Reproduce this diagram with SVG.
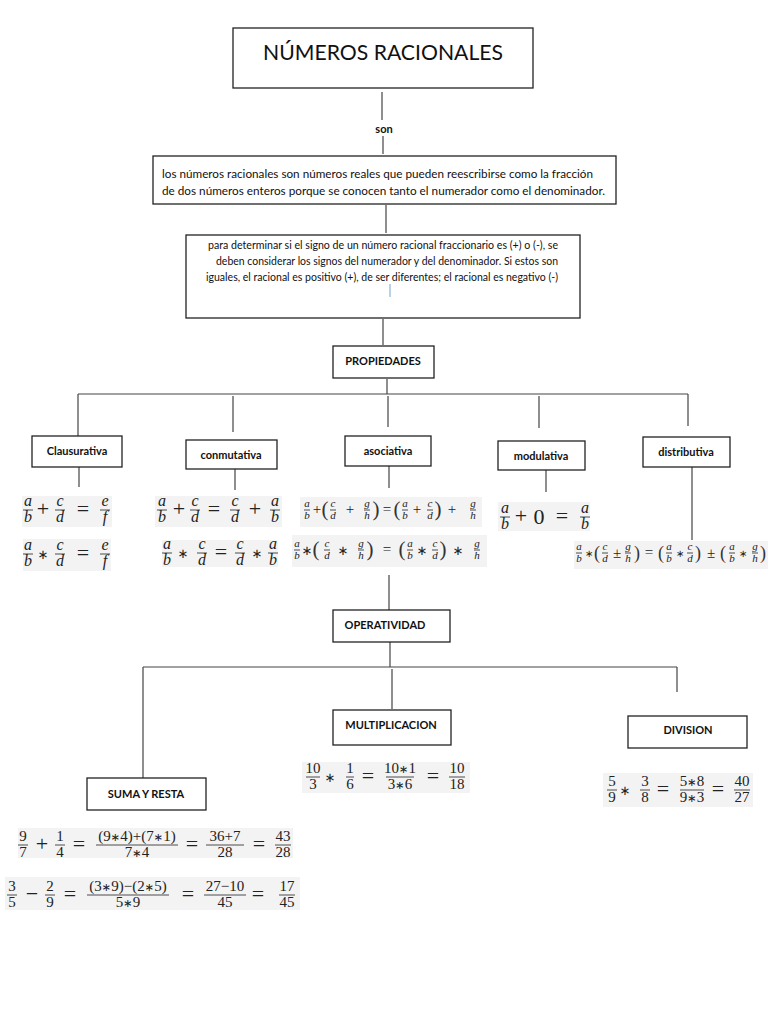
<svg xmlns="http://www.w3.org/2000/svg" width="768" height="1024" viewBox="0 0 768 1024">
<style>
.box{fill:#fff;stroke:#222;stroke-width:1.3}
.c line{stroke:#444;stroke-width:1.2}
.lbl{font-family:Lato,"Liberation Sans",sans-serif;font-weight:bold;font-size:11px;fill:#111;text-anchor:middle}
.txt{font-family:Lato,"Liberation Sans",sans-serif;font-size:10.5px;fill:#111}
.f{font-family:"Liberation Serif","Times New Roman",serif;font-size:16px;fill:#222;text-anchor:middle}
.s{font-size:11px}
.m{font-size:15px}
.i{font-style:italic}
.o{font-family:"Liberation Serif","Times New Roman",serif;font-size:22px;fill:#222;text-anchor:middle}
.os{font-size:15px}
.a{font-family:"DejaVu Sans",sans-serif;font-weight:normal;font-size:13px;fill:#222;text-anchor:middle}
.as{font-size:10px}
.t{font-family:"DejaVu Sans",sans-serif;font-size:0.75em}
.p{font-family:"Liberation Serif","Times New Roman",serif;font-size:21px;fill:#333;text-anchor:middle}
.ps{font-size:18px}
.b{stroke:#222;stroke-width:0.8}
.bg{fill:#f3f3f3}
</style>

<g id="connectors" class="c">
<line x1="382" y1="92" x2="382" y2="120"/>
<line x1="383" y1="136" x2="383" y2="154"/>
<line x1="386" y1="205" x2="386" y2="233"/>
<line x1="383" y1="319" x2="383" y2="345"/>
<line x1="387" y1="379" x2="387" y2="394"/>
<line x1="78" y1="394" x2="688" y2="394"/>
<line x1="78" y1="394" x2="78" y2="436"/>
<line x1="233" y1="396" x2="233" y2="432"/>
<line x1="388" y1="396" x2="388" y2="427"/>
<line x1="539" y1="396" x2="539" y2="428"/>
<line x1="688" y1="394" x2="688" y2="426"/>
<line x1="79" y1="467" x2="79" y2="487"/>
<line x1="235" y1="469" x2="235" y2="490"/>
<line x1="389" y1="466" x2="389" y2="488"/>
<line x1="546" y1="470" x2="546" y2="492"/>
<line x1="692" y1="467" x2="692" y2="540"/>
<line x1="389" y1="575" x2="389" y2="610"/>
<line x1="390" y1="642" x2="390" y2="667"/>
<line x1="143" y1="667" x2="677" y2="667"/>
<line x1="143" y1="667" x2="143" y2="778"/>
<line x1="392" y1="669" x2="392" y2="709"/>
<line x1="677" y1="667" x2="677" y2="692"/>
</g>

<g id="titulo">
<rect class="box" x="233" y="28" width="300" height="60"/>
<text x="383" y="60" font-family="Lato,'Liberation Sans',sans-serif" font-size="22" fill="#111" text-anchor="middle" textLength="240" lengthAdjust="spacingAndGlyphs">NÚMEROS RACIONALES</text>
</g>
<g id="son">
<text class="lbl" x="384" y="133" font-size="10">son</text>
</g>
<g id="definicion">
<rect class="box" x="153" y="156" width="463" height="48"/>
<text class="txt" x="162" y="178" textLength="431" lengthAdjust="spacingAndGlyphs">los números racionales son números reales que pueden reescribirse como la fracción</text>
<text class="txt" x="162" y="195" textLength="443" lengthAdjust="spacingAndGlyphs">de dos números enteros porque se conocen tanto el numerador como el denominador.</text>
</g>
<g id="signo">
<rect class="box" x="186" y="235" width="394" height="83"/>
<text class="txt" x="208" y="249" textLength="350" lengthAdjust="spacingAndGlyphs">para determinar si el signo de un número racional fraccionario es (+) o (-), se</text>
<text class="txt" x="216" y="265" textLength="342" lengthAdjust="spacingAndGlyphs">deben considerar los signos del numerador y del denominador. Si estos son</text>
<text class="txt" x="206" y="281" textLength="352" lengthAdjust="spacingAndGlyphs">iguales, el racional es positivo (+), de ser diferentes; el racional es negativo (-)</text>
<line x1="390" y1="284" x2="390" y2="297" stroke="#8ab4d8" stroke-width="1.2"/>
</g>
<g id="propiedades">
<rect class="box" x="333" y="346" width="101" height="32"/>
<text class="lbl" x="383" y="365" font-size="10.5">PROPIEDADES</text>
</g>
<g id="clausurativa">
<rect class="box" x="32" y="436" width="90" height="31"/>
<text class="lbl" x="77" y="455">Clausurativa</text>
</g>
<g id="conmutativa">
<rect class="box" x="186" y="440" width="91" height="29"/>
<text class="lbl" x="231" y="459">conmutativa</text>
</g>
<g id="asociativa">
<rect class="box" x="345" y="436" width="86" height="30"/>
<text class="lbl" x="388" y="455">asociativa</text>
</g>
<g id="modulativa">
<rect class="box" x="498" y="441" width="87" height="29"/>
<text class="lbl" x="541" y="460">modulativa</text>
</g>
<g id="distributiva">
<rect class="box" x="643" y="437" width="87" height="30"/>
<text class="lbl" x="686" y="456">distributiva</text>
</g>

<g id="f-clausurativa">
<rect class="bg" x="22" y="496" width="90" height="31"/>
<text class="f i" x="28" y="506">a</text><line class="b" x1="23" y1="510" x2="33" y2="510"/><text class="f i" x="28" y="522">b</text>
<text class="o" x="43" y="516">+</text>
<text class="f i" x="60" y="506">c</text><line class="b" x1="55" y1="510" x2="65" y2="510"/><text class="f i" x="60" y="522">d</text>
<text class="o" x="83" y="516">=</text>
<text class="f i" x="105" y="506">e</text><line class="b" x1="100" y1="510" x2="110" y2="510"/><text class="f i" x="105" y="522">f</text>
<rect class="bg" x="23" y="539" width="88" height="32"/>
<text class="f i" x="28" y="550">a</text><line class="b" x1="23" y1="554" x2="33" y2="554"/><text class="f i" x="28" y="566">b</text>
<text class="a" x="43" y="559">∗</text>
<text class="f i" x="60" y="550">c</text><line class="b" x1="55" y1="554" x2="65" y2="554"/><text class="f i" x="60" y="566">d</text>
<text class="o" x="83" y="560">=</text>
<text class="f i" x="105" y="550">e</text><line class="b" x1="100" y1="554" x2="110" y2="554"/><text class="f i" x="105" y="566">f</text>
</g>

<g id="f-conmutativa">
<rect class="bg" x="155" y="496" width="127" height="31"/>
<text class="f i" x="162" y="506">a</text><line class="b" x1="157" y1="510" x2="167" y2="510"/><text class="f i" x="162" y="522">b</text>
<text class="o" x="179" y="516">+</text>
<text class="f i" x="195" y="506">c</text><line class="b" x1="190" y1="510" x2="200" y2="510"/><text class="f i" x="195" y="522">d</text>
<text class="o" x="214" y="516">=</text>
<text class="f i" x="235" y="506">c</text><line class="b" x1="230" y1="510" x2="240" y2="510"/><text class="f i" x="235" y="522">d</text>
<text class="o" x="255" y="516">+</text>
<text class="f i" x="275" y="506">a</text><line class="b" x1="270" y1="510" x2="280" y2="510"/><text class="f i" x="275" y="522">b</text>
<rect class="bg" x="162" y="540" width="116" height="27"/>
<text class="f i" x="167" y="549">a</text><line class="b" x1="162" y1="553" x2="172" y2="553"/><text class="f i" x="167" y="565">b</text>
<text class="a" x="183" y="558">∗</text>
<text class="f i" x="202" y="549">c</text><line class="b" x1="197" y1="553" x2="207" y2="553"/><text class="f i" x="202" y="565">d</text>
<text class="o" x="221" y="559">=</text>
<text class="f i" x="240" y="549">c</text><line class="b" x1="235" y1="553" x2="245" y2="553"/><text class="f i" x="240" y="565">d</text>
<text class="a" x="257" y="558">∗</text>
<text class="f i" x="273" y="549">a</text><line class="b" x1="268" y1="553" x2="278" y2="553"/><text class="f i" x="273" y="565">b</text>
</g>

<g id="f-asociativa">
<rect class="bg" x="300" y="497" width="182" height="30"/>
<text class="f s i" x="307" y="507">a</text><line class="b" x1="304" y1="510" x2="310" y2="510"/><text class="f s i" x="307" y="519">b</text>
<text class="o os" x="317" y="514">+</text>
<text class="p" x="325" y="516">(</text>
<text class="f s i" x="333" y="507">c</text><line class="b" x1="330" y1="510" x2="336" y2="510"/><text class="f s i" x="333" y="519">d</text>
<text class="o os" x="350" y="514">+</text>
<text class="f s i" x="367" y="507">g</text><line class="b" x1="364" y1="510" x2="370" y2="510"/><text class="f s i" x="367" y="519">h</text>
<text class="p" x="376" y="516">)</text>
<text class="o os" x="387" y="514">=</text>
<text class="p" x="397" y="516">(</text>
<text class="f s i" x="405" y="507">a</text><line class="b" x1="402" y1="510" x2="408" y2="510"/><text class="f s i" x="405" y="519">b</text>
<text class="o os" x="417" y="514">+</text>
<text class="f s i" x="430" y="507">c</text><line class="b" x1="427" y1="510" x2="433" y2="510"/><text class="f s i" x="430" y="519">d</text>
<text class="p" x="438" y="516">)</text>
<text class="o os" x="452" y="514">+</text>
<text class="f s i" x="473" y="507">g</text><line class="b" x1="470" y1="510" x2="476" y2="510"/><text class="f s i" x="473" y="519">h</text>
<rect class="bg" x="292" y="535" width="195" height="32"/>
<text class="f s i" x="297" y="547">a</text><line class="b" x1="294" y1="550" x2="300" y2="550"/><text class="f s i" x="297" y="559">b</text>
<text class="a" x="307" y="555">∗</text>
<text class="p" x="316" y="556">(</text>
<text class="f s i" x="327" y="547">c</text><line class="b" x1="324" y1="550" x2="330" y2="550"/><text class="f s i" x="327" y="559">d</text>
<text class="a" x="343" y="555">∗</text>
<text class="f s i" x="361" y="547">g</text><line class="b" x1="358" y1="550" x2="364" y2="550"/><text class="f s i" x="361" y="559">h</text>
<text class="p" x="370" y="556">)</text>
<text class="o os" x="387" y="554">=</text>
<text class="p" x="402" y="556">(</text>
<text class="f s i" x="410" y="547">a</text><line class="b" x1="407" y1="550" x2="413" y2="550"/><text class="f s i" x="410" y="559">b</text>
<text class="a" x="422" y="555">∗</text>
<text class="f s i" x="435" y="547">c</text><line class="b" x1="432" y1="550" x2="438" y2="550"/><text class="f s i" x="435" y="559">d</text>
<text class="p" x="443" y="556">)</text>
<text class="a" x="458" y="555">∗</text>
<text class="f s i" x="477" y="547">g</text><line class="b" x1="474" y1="550" x2="480" y2="550"/><text class="f s i" x="477" y="559">h</text>
</g>

<g id="f-modulativa">
<rect class="bg" x="498" y="502" width="92" height="29"/>
<text class="f i" x="505" y="513">a</text><line class="b" x1="500" y1="517" x2="510" y2="517"/><text class="f i" x="505" y="529">b</text>
<text class="o" x="521" y="523">+</text>
<text class="o" x="539" y="524" font-size="19">0</text>
<text class="o" x="562" y="523">=</text>
<text class="f i" x="585" y="513">a</text><line class="b" x1="580" y1="517" x2="590" y2="517"/><text class="f i" x="585" y="529">b</text>
</g>

<g id="f-distributiva">
<rect class="bg" x="574" y="541" width="194" height="28"/>
<text class="f s i" x="579" y="550">a</text><line class="b" x1="576" y1="553" x2="582" y2="553"/><text class="f s i" x="579" y="562">b</text>
<text class="a as" x="589" y="557">∗</text>
<text class="p ps" x="597" y="559">(</text>
<text class="f s i" x="605" y="550">c</text><line class="b" x1="602" y1="553" x2="608" y2="553"/><text class="f s i" x="605" y="562">d</text>
<text class="o os" x="617" y="558">±</text>
<text class="f s i" x="628" y="550">g</text><line class="b" x1="625" y1="553" x2="631" y2="553"/><text class="f s i" x="628" y="562">h</text>
<text class="p ps" x="637" y="559">)</text>
<text class="o os" x="649" y="557">=</text>
<text class="p ps" x="661" y="559">(</text>
<text class="f s i" x="669" y="550">a</text><line class="b" x1="666" y1="553" x2="672" y2="553"/><text class="f s i" x="669" y="562">b</text>
<text class="a as" x="680" y="557">∗</text>
<text class="f s i" x="690" y="550">c</text><line class="b" x1="687" y1="553" x2="693" y2="553"/><text class="f s i" x="690" y="562">d</text>
<text class="p ps" x="698" y="559">)</text>
<text class="o os" x="711" y="558">±</text>
<text class="p ps" x="723" y="559">(</text>
<text class="f s i" x="732" y="550">a</text><line class="b" x1="729" y1="553" x2="735" y2="553"/><text class="f s i" x="732" y="562">b</text>
<text class="a as" x="743" y="557">∗</text>
<text class="f s i" x="755" y="550">g</text><line class="b" x1="752" y1="553" x2="758" y2="553"/><text class="f s i" x="755" y="562">h</text>
<text class="p ps" x="763" y="559">)</text>
</g>

<g id="operatividad">
<rect class="box" x="333" y="610" width="117" height="32"/>
<text class="lbl" x="385" y="629" font-size="10.5">OPERATIVIDAD</text>
</g>
<g id="multiplicacion">
<rect class="box" x="333" y="710" width="118" height="35"/>
<text class="lbl" x="391" y="729" font-size="10.5">MULTIPLICACION</text>
</g>
<g id="division">
<rect class="box" x="628" y="716" width="119" height="32"/>
<text class="lbl" x="688" y="734" font-size="10.5">DIVISION</text>
</g>
<g id="suma-resta">
<rect class="box" x="87" y="778" width="119" height="32"/>
<text class="lbl" x="146" y="798" font-size="10.5">SUMA Y RESTA</text>
</g>

<g id="f-multiplicacion">
<rect class="bg" x="302" y="762" width="168" height="31"/>
<text class="f m" x="313" y="773">10</text><line class="b" x1="306" y1="777" x2="320" y2="777"/><text class="f m" x="313" y="789">3</text>
<text class="a" x="330" y="782">∗</text>
<text class="f m" x="350" y="773">1</text><line class="b" x1="346" y1="777" x2="354" y2="777"/><text class="f m" x="350" y="789">6</text>
<text class="o" x="368" y="783">=</text>
<text class="f m" x="400" y="773">10<tspan class="t">∗</tspan>1</text><line class="b" x1="386" y1="777" x2="414" y2="777"/><text class="f m" x="400" y="789">3<tspan class="t">∗</tspan>6</text>
<text class="o" x="433" y="783">=</text>
<text class="f m" x="457" y="773">10</text><line class="b" x1="449" y1="777" x2="465" y2="777"/><text class="f m" x="457" y="789">18</text>
</g>

<g id="f-division">
<rect class="bg" x="603" y="773" width="150" height="34"/>
<text class="f m" x="612" y="786">5</text><line class="b" x1="607" y1="790" x2="617" y2="790"/><text class="f m" x="612" y="802">9</text>
<text class="a" x="625" y="795">∗</text>
<text class="f m" x="645" y="786">3</text><line class="b" x1="640" y1="790" x2="650" y2="790"/><text class="f m" x="645" y="802">8</text>
<text class="o" x="663" y="796">=</text>
<text class="f m" x="692" y="786">5<tspan class="t">∗</tspan>8</text><line class="b" x1="680" y1="790" x2="704" y2="790"/><text class="f m" x="692" y="802">9<tspan class="t">∗</tspan>3</text>
<text class="o" x="718" y="796">=</text>
<text class="f m" x="742" y="786">40</text><line class="b" x1="734" y1="790" x2="750" y2="790"/><text class="f m" x="742" y="802">27</text>
</g>

<g id="f-suma">
<rect class="bg" x="18" y="828" width="275" height="30"/>
<text class="f m" x="23" y="841">9</text><line class="b" x1="18" y1="845" x2="28" y2="845"/><text class="f m" x="23" y="857">7</text>
<text class="o" x="42" y="851">+</text>
<text class="f m" x="60" y="841">1</text><line class="b" x1="55" y1="845" x2="65" y2="845"/><text class="f m" x="60" y="857">4</text>
<text class="o" x="79" y="851">=</text>
<text class="f m" x="137" y="841">(9<tspan class="t">∗</tspan>4)+(7<tspan class="t">∗</tspan>1)</text><line class="b" x1="96" y1="845" x2="178" y2="845"/><text class="f m" x="137" y="857">7<tspan class="t">∗</tspan>4</text>
<text class="o" x="192" y="851">=</text>
<text class="f m" x="225" y="841">36+7</text><line class="b" x1="206" y1="845" x2="244" y2="845"/><text class="f m" x="225" y="857">28</text>
<text class="o" x="259" y="851">=</text>
<text class="f m" x="283" y="841">43</text><line class="b" x1="275" y1="845" x2="291" y2="845"/><text class="f m" x="283" y="857">28</text>
</g>
<g id="f-resta">
<rect class="bg" x="5" y="877" width="295" height="33"/>
<text class="f m" x="12" y="891">3</text><line class="b" x1="7" y1="895" x2="17" y2="895"/><text class="f m" x="12" y="907">5</text>
<text class="o" x="32" y="901">−</text>
<text class="f m" x="50" y="891">2</text><line class="b" x1="45" y1="895" x2="55" y2="895"/><text class="f m" x="50" y="907">9</text>
<text class="o" x="70" y="901">=</text>
<text class="f m" x="128" y="891">(3<tspan class="t">∗</tspan>9)−(2<tspan class="t">∗</tspan>5)</text><line class="b" x1="87" y1="895" x2="169" y2="895"/><text class="f m" x="128" y="907">5<tspan class="t">∗</tspan>9</text>
<text class="o" x="188" y="901">=</text>
<text class="f m" x="225" y="891">27−10</text><line class="b" x1="204" y1="895" x2="246" y2="895"/><text class="f m" x="225" y="907">45</text>
<text class="o" x="258" y="901">=</text>
<text class="f m" x="287" y="891">17</text><line class="b" x1="279" y1="895" x2="295" y2="895"/><text class="f m" x="287" y="907">45</text>
</g>
</svg>
